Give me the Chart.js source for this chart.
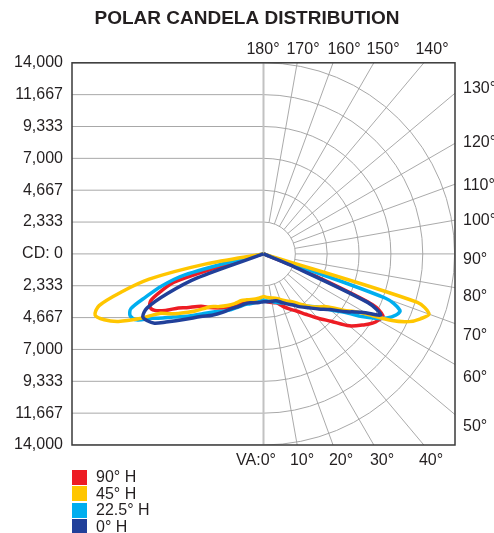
<!DOCTYPE html>
<html>
<head>
<meta charset="utf-8">
<title>Polar Candela Distribution</title>
<script src="https://cdn.jsdelivr.net/npm/chart.js@4.4.1/dist/chart.umd.min.js"></script>
<style>
  body { margin: 0; background: #fff; font-family: "Liberation Sans", Arial, sans-serif; color: #231f20; }
  #wrap { position: relative; width: 494px; height: 533px; }
  #legend { position: absolute; left: 72px; top: 469px; font-size: 16px; }
  #legend .row { display: flex; align-items: center; height: 16.5px; line-height: 16px; }
  #legend .box { width: 15px; height: 15px; margin-right: 9px; }
</style>
</head>
<body>
<div id="wrap">
  <canvas id="polarChart"></canvas>
  <div id="legend"></div>
</div>
<script>
// vertical angles (degrees from nadir) shared by every curve
const verticalAngles = [0, 5, 10, 15, 20, 25, 30, 35, 40, 45, 50, 55, 57.5, 60, 62.5, 65, 67.5, 70, 72.5, 75, 77.5, 80, 85, 90];

// candela per vertical angle, right half / left half of each horizontal plane
const h90Right  = [3420, 3520, 3620, 3720, 4070, 4450, 4830, 5400, 6130, 6980, 8200, 9050, 9450, 9710, 9850, 8800, 3000, 0, 0, 0, 0, 0, 0, 0];
const h90Left   = [3420, 3480, 3560, 3630, 3740, 4110, 4460, 4810, 5170, 5560, 5960, 6870, 7370, 8280, 8960, 9170, 8900, 7960, 6850, 1800, 0, 0, 0, 0];
const h45Right  = [3130, 3200, 3280, 3360, 3550, 3790, 4030, 4450, 4970, 5490, 6010, 7220, 7840, 8910, 10580, 11740, 12420, 12880, 11800, 0, 0, 0, 0, 0];
const h45Left   = [3130, 3240, 3350, 3460, 3580, 3770, 4200, 4620, 5040, 5470, 6510, 7600, 8150, 8700, 10300, 11700, 12600, 13100, 12600, 10720, 8560, 4330, 0, 0];
const h225Right = [3370, 3460, 3550, 3680, 3820, 3960, 4250, 4560, 5010, 5480, 6370, 7580, 8540, 9420, 10180, 10650, 10800, 9500, 0, 0, 0, 0, 0, 0];
const h225Left  = [3370, 3500, 3620, 3780, 3950, 4290, 4700, 5120, 5540, 6170, 7080, 8070, 8750, 9430, 10460, 10750, 10500, 9100, 7800, 6000, 1500, 0, 0, 0];
const h0Right   = [3500, 3520, 3530, 3550, 3770, 4040, 4320, 4740, 5160, 5700, 6350, 7390, 7910, 8620, 9670, 8400, 2100, 0, 0, 0, 0, 0, 0, 0];
const h0Left    = [3500, 3580, 3640, 3710, 3890, 4230, 4610, 5230, 5860, 6490, 7450, 8700, 9450, 9800, 9950, 9400, 7600, 5200, 0, 0, 0, 0, 0, 0];

const seriesLabels = ['90° H', '45° H', '22.5° H', '0° H'];
const seriesColors = ['#ed1c24', '#ffc600', '#00aeef', '#21409a'];

// candela axis
const yTickValues = [-14000, -11666.67, -9333.33, -7000, -4666.67, -2333.33, 0, 2333.33, 4666.67, 7000, 9333.33, 11666.67, 14000];
const yTickLabels = ['14,000', '11,667', '9,333', '7,000', '4,667', '2,333', 'CD: 0', '2,333', '4,667', '7,000', '9,333', '11,667', '14,000'];

// angle labels round the frame
const topLabels = ['180°', '170°', '160°', '150°', '140°'];
const bottomLabels = ['VA:0°', '10°', '20°', '30°', '40°'];
const rightLabels = ['130°', '120°', '110°', '100°', '90°', '80°', '70°', '60°', '50°'];

// turn a right/left pair into one closed outline starting and ending at the centre
function toPoints(right, left) {
  const pts = [];
  const add = (deg, cd, side) => {
    const t = deg * Math.PI / 180;
    const p = { x: side * cd * Math.sin(t), y: -cd * Math.cos(t) };
    const last = pts[pts.length - 1];
    if (!last || Math.abs(last.x - p.x) > 1e-6 || Math.abs(last.y - p.y) > 1e-6) pts.push(p);
  };
  for (let i = verticalAngles.length - 1; i >= 0; i--) add(verticalAngles[i], right[i], 1);
  for (let i = 1; i < verticalAngles.length; i++) add(verticalAngles[i], left[i], -1);
  return pts;
}

const curves = [
  toPoints(h90Right, h90Left),
  toPoints(h45Right, h45Left),
  toPoints(h225Right, h225Left),
  toPoints(h0Right, h0Left)
];
const drawOrder = [4, 2, 3, 1];

const FONT = '"Liberation Sans", Arial, sans-serif';
const INK = '#231f20';

// rings, spokes and frame
const polarGrid = {
  id: 'polarGrid',
  beforeDatasetsDraw(chart) {
    const { ctx, chartArea: a, scales: { x, y } } = chart;
    const cx = x.getPixelForValue(0), cy = y.getPixelForValue(0);
    const rings = yTickValues.filter(v => v > 0).map(v => cy - y.getPixelForValue(v));
    ctx.save();
    ctx.beginPath();
    ctx.rect(a.left, a.top, a.width, a.height);
    ctx.clip();

    ctx.strokeStyle = '#a8a8a8';
    ctx.lineWidth = 1;
    rings.forEach(r => {
      ctx.beginPath();
      ctx.moveTo(a.left, cy - r);
      ctx.lineTo(cx, cy - r);
      ctx.arc(cx, cy, r, -Math.PI / 2, Math.PI / 2);
      ctx.lineTo(a.left, cy + r);
      ctx.stroke();
    });

    // CD: 0 line on the left half
    ctx.beginPath();
    ctx.moveTo(a.left, cy);
    ctx.lineTo(cx, cy);
    ctx.stroke();

    // spokes every 10 degrees, starting at the first ring
    ctx.strokeStyle = '#a0a0a0';
    ctx.lineWidth = 0.9;
    const r0 = rings[0];
    ctx.beginPath();
    for (let deg = 10; deg <= 170; deg += 10) {
      const t = deg * Math.PI / 180;
      ctx.moveTo(cx + r0 * Math.sin(t), cy + r0 * Math.cos(t));
      ctx.lineTo(cx + 600 * Math.sin(t), cy + 600 * Math.cos(t));
    }
    ctx.stroke();

    // vertical axis
    ctx.strokeStyle = '#c2c2c2';
    ctx.lineWidth = 2;
    ctx.beginPath();
    ctx.moveTo(cx, a.top);
    ctx.lineTo(cx, a.bottom);
    ctx.stroke();
    ctx.restore();
  },
  afterDatasetsDraw(chart) {
    const { ctx, chartArea: a, scales: { x, y } } = chart;
    const cx = x.getPixelForValue(0), cy = y.getPixelForValue(0);
    ctx.save();
    ctx.strokeStyle = '#3a3a3a';
    ctx.lineWidth = 1.5;
    ctx.strokeRect(a.left, a.top, a.width, a.height);

    ctx.fillStyle = INK;
    ctx.font = '16px ' + FONT;
    ctx.textBaseline = 'middle';

    ctx.textAlign = 'center';
    const topX = [-0.5, 39.5, 80.5, 119.5, 168.5];
    topLabels.forEach((t, i) => ctx.fillText(t, cx + topX[i], a.top - 13));

    const bottomX = [12.5, 38.5, 77.5, 118.5, 167.5];
    bottomLabels.forEach((t, i) => {
      ctx.textAlign = i === 0 ? 'right' : 'center';
      ctx.fillText(t, cx + bottomX[i], a.bottom + 16);
    });

    ctx.textAlign = 'left';
    const rightY = [-165, -111, -68, -33, 6, 43, 82, 124, 173];
    rightLabels.forEach((t, i) => ctx.fillText(t, a.right + 8, cy + rightY[i]));
    ctx.restore();
  }
};

const ctx = document.getElementById('polarChart').getContext('2d');
const polarChart = new Chart(ctx, {
  type: 'scatter',
  data: {
    datasets: curves.map((pts, i) => ({
      label: seriesLabels[i],
      data: pts,
      showLine: true,
      borderColor: seriesColors[i],
      borderWidth: 3.5,
      pointRadius: 0,
      tension: 0.3,
      fill: false,
      order: drawOrder[i]
    }))
  },
  options: {
    responsive: true,
    maintainAspectRatio: false,
    animation: false,
    events: [],
    layout: { padding: { left: 0, right: 0, top: 0, bottom: 88 } },
    plugins: {
      legend: { display: false },
      tooltip: { enabled: false },
      title: {
        display: true,
        text: 'POLAR CANDELA DISTRIBUTION',
        color: INK,
        font: { family: FONT, size: 19, weight: 'bold', lineHeight: 1.2 },
        padding: { top: 7, bottom: 33 }
      }
    },
    scales: {
      x: { type: 'linear', min: -14000, max: 14000, display: false },
      y: {
        type: 'linear',
        min: -14000,
        max: 14000,
        afterBuildTicks: s => { s.ticks = yTickValues.map(v => ({ value: v })); },
        afterFit: s => { s.width = 72; },
        grid: { display: false, drawTicks: false },
        border: { display: false },
        ticks: {
          autoSkip: false,
          padding: 9,
          color: INK,
          font: { family: FONT, size: 16 },
          callback: (v, i) => yTickLabels[i]
        }
      },
      // empty strip on the right that holds the vertical angle labels
      yRight: {
        type: 'linear',
        position: 'right',
        min: -14000,
        max: 14000,
        afterFit: s => { s.width = 39; },
        grid: { display: false, drawTicks: false },
        border: { display: false },
        ticks: { display: false }
      }
    }
  },
  plugins: [polarGrid]
});

// legend column under the frame
const legend = document.getElementById('legend');
seriesLabels.forEach((label, i) => {
  const row = document.createElement('div');
  row.className = 'row';
  row.innerHTML = '<span class="box" style="background:' + seriesColors[i] + '"></span><span>' + label + '</span>';
  legend.appendChild(row);
});
</script>
</body>
</html>
